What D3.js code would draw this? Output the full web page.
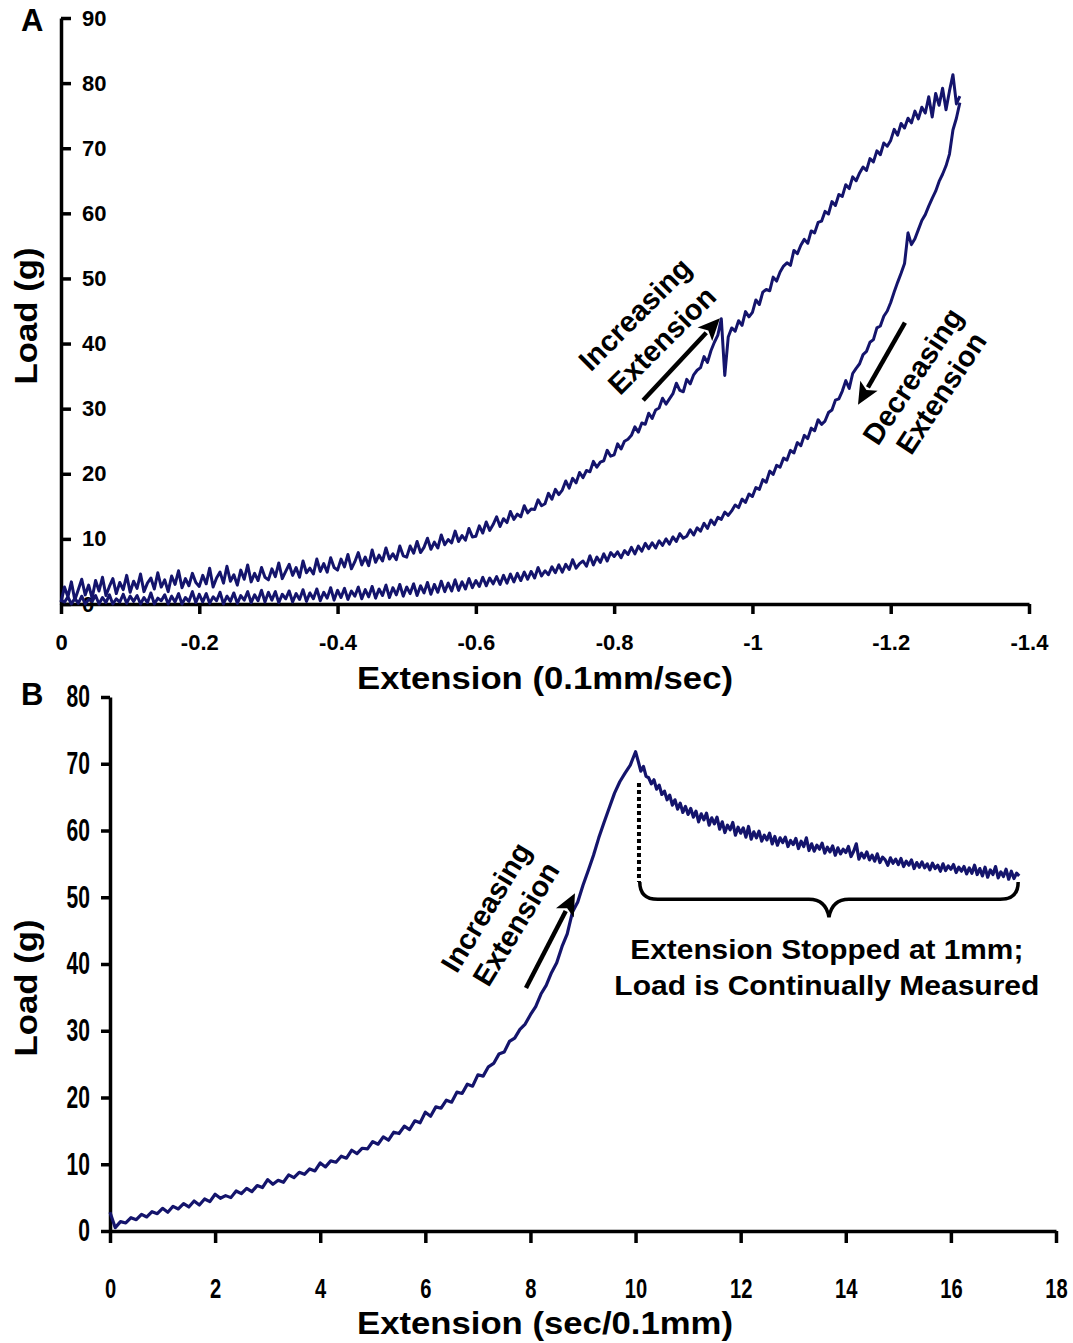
<!DOCTYPE html>
<html><head><meta charset="utf-8">
<script src="https://cdn.jsdelivr.net/npm/d3@7"></script>
<style>
body{margin:0;background:#fff}
text{font-family:"Liberation Sans",Arial,Helvetica,sans-serif;font-weight:bold;fill:#000}
</style>
</head><body>
<svg id="c" width="1073" height="1343"></svg>
<script>
// ---------- Panel A data (Load vs Extension, 0.1mm/sec) ----------
const aLoadStart = 0, aLoadStep = -0.005;
const aLoading = [
0.3,2.6,1.1,3.4,0.6,2.2,3.8,1.4,2.9,0.9,3.6,2.0,4.1,1.3,2.7,3.9,1.6,3.3,2.2,4.4,
1.8,3.5,2.4,4.6,1.9,3.2,4.0,2.3,4.8,2.6,3.7,1.9,4.3,3.0,5.1,2.5,3.9,2.8,4.7,3.3,
2.7,4.4,3.1,5.5,2.6,4.0,4.9,3.2,5.8,3.5,4.5,2.9,5.2,3.8,6.0,3.4,4.7,3.6,5.6,4.1,
3.7,5.4,4.2,6.3,3.9,5.0,6.1,4.4,5.6,4.1,6.6,4.8,5.5,4.6,6.9,5.0,6.2,4.9,7.1,5.6,
5.2,6.9,5.7,7.6,5.4,6.5,7.9,6.0,7.2,5.9,8.3,6.4,7.5,6.6,8.6,6.9,7.7,6.8,8.9,7.4,
7.2,8.9,7.8,9.6,7.9,8.7,10.1,8.4,9.5,8.6,10.6,9.1,9.9,9.4,11.2,9.6,10.5,9.8,11.6,10.3,
10.4,12.0,10.9,12.6,11.3,12.2,13.4,11.9,13.1,12.5,14.2,13.0,13.8,13.4,15.1,14.0,14.6,14.5,16.0,15.1,
15.4,17.0,16.1,17.6,16.8,17.5,18.9,17.8,19.3,18.6,20.2,19.4,20.5,20.3,21.9,21.0,21.8,22.0,23.6,22.7,
22.9,24.6,23.8,25.0,25.3,25.9,27.2,26.4,27.8,27.6,29.3,28.5,29.8,30.1,31.6,30.7,31.5,32.3,33.9,32.8,
32.6,34.5,33.8,35.2,35.9,36.3,38.0,37.1,38.9,40.2,41.3,43.8,35.1,41.0,42.4,41.9,43.5,42.8,44.9,44.1,
44.8,46.7,46.0,47.9,48.3,48.1,50.2,49.6,51.0,51.9,52.4,52.0,54.3,53.8,55.1,56.0,55.4,57.3,57.0,58.6,
58.8,60.3,59.9,61.8,61.2,62.9,62.6,64.4,63.8,65.6,65.0,66.2,67.1,66.6,68.4,67.9,69.6,69.0,70.8,70.3,
71.2,72.9,72.0,73.8,73.1,74.6,73.9,75.7,74.5,76.3,75.4,77.9,74.8,78.4,76.6,79.2,75.9,78.8,81.3,76.8,
78.0];
const aUnloadStart = -1.30, aUnloadStep = 0.005;
const aUnloading = [
77.0,74.6,72.8,69.1,67.3,66.0,64.9,63.4,62.3,61.1,59.8,58.9,57.5,56.1,55.2,57.0,52.3,50.8,49.4,47.9,
46.3,45.0,44.2,42.7,42.4,40.6,40.2,38.8,38.3,36.9,36.2,35.4,33.1,34.3,32.7,31.5,31.3,29.8,29.4,28.1,
27.6,28.3,26.6,27.0,25.4,25.9,24.3,24.8,23.2,23.6,22.1,22.4,21.0,21.3,19.9,20.4,18.7,19.1,17.6,17.9,
16.5,16.9,15.6,16.1,14.8,15.2,14.3,13.6,14.1,13.0,13.3,12.2,12.9,11.6,12.4,11.2,11.7,10.6,11.4,10.4,
10.1,10.8,9.6,10.3,9.2,10.0,9.0,9.7,8.6,9.4,8.5,9.3,8.1,8.9,7.7,8.7,7.6,8.2,7.1,8.0,
7.3,7.9,6.6,7.7,6.4,7.2,6.0,7.4,5.8,6.6,6.2,5.5,6.8,5.3,6.1,4.9,6.0,4.8,5.7,4.5,
5.1,4.3,5.6,4.0,5.0,3.8,4.9,3.6,4.7,3.4,4.6,3.2,4.4,3.0,4.2,3.1,4.0,2.8,4.1,2.7,
3.6,2.5,3.9,2.3,3.4,2.1,3.7,2.0,3.2,1.9,3.5,1.8,3.0,1.5,3.3,1.7,2.8,1.3,3.1,1.6,
2.6,1.2,3.0,1.4,2.5,1.0,2.9,1.3,2.3,0.9,2.7,1.1,2.2,0.8,2.6,1.2,2.0,0.7,2.4,1.0,
2.1,0.6,2.5,0.9,1.8,0.5,2.3,0.8,1.7,0.4,2.2,0.7,1.6,0.3,2.0,0.8,1.5,0.2,1.9,0.6,
1.8,0.3,2.1,0.5,1.4,0.2,1.9,0.6,1.3,0.1,1.7,0.4,1.2,0.0,1.8,0.5,1.1,0.1,1.6,0.3,
1.5,0.2,1.9,0.4,1.0,0.0,1.6,0.3,1.2,0.0,1.4,0.5,0.9,0.0,1.7,0.2,1.0,0.0,1.3,0.4,
1.2,0.1,1.5,0.3,0.8,0.0,1.4,0.2,1.0,0.0,1.3,0.4,0.7,0.0,1.2,0.1,0.9,0.0,1.1,0.3,0.6];
const aXTicks = [0,-0.2,-0.4,-0.6,-0.8,-1,-1.2,-1.4];
const aYTicks = [0,10,20,30,40,50,60,70,80,90];

// ---------- Panel B data (Load vs time, sec/0.1mm) ----------
const bLoadStart = 0, bLoadStep = 0.1;
const bLoading = [2.8,0.5,1.4,1.2,2.0,1.7,2.5,2.1,2.9,2.6,
3.4,2.8,3.7,3.3,4.1,3.6,4.5,3.9,4.8,4.4,
5.5,4.9,5.3,5.0,6.0,5.6,6.4,5.9,6.8,6.5,
7.7,7.0,7.6,7.3,8.4,8.0,8.8,8.5,9.3,9.0,
10.2,9.6,10.5,10.3,11.2,10.9,12.1,11.6,12.4,12.3,
13.4,13.0,14.1,13.6,14.8,14.6,15.7,15.2,16.5,16.2,
17.8,17.2,18.6,18.4,19.6,19.3,20.8,20.6,22.0,21.7,
23.4,23.2,24.6,25.1,26.5,26.8,28.4,28.9,30.2,31.0,
32.4,33.6,35.5,36.8,38.7,40.2,42.6,44.5,47.8,49.3,
51.8,54.0,56.3,58.9,61.2,63.4,65.6,67.3,68.6,69.8,71.8];
const bRelaxStart = 10.05, bRelaxStep = 0.05;
const bRelax = [
70.4,68.9,69.6,68.1,67.9,67.0,67.6,66.2,66.8,65.4,
65.9,64.6,65.3,63.8,64.6,63.2,64.1,62.7,63.6,62.4,
63.3,62.0,62.9,61.3,62.5,61.6,62.6,60.8,61.9,61.0,
62.0,60.2,61.3,59.7,60.8,60.1,61.2,59.3,60.5,59.6,
60.4,59.0,60.6,58.7,59.8,58.9,59.9,58.4,59.3,58.6,
59.6,58.0,59.1,57.8,58.9,58.2,59.0,57.6,58.5,57.9,
58.8,57.3,58.4,57.6,58.9,57.0,58.0,56.9,57.8,57.2,
58.1,56.6,57.5,56.8,57.7,56.3,57.4,56.5,57.2,56.7,
57.6,56.1,56.9,58.0,55.7,56.6,55.9,56.8,55.6,56.3,
55.4,56.5,55.2,56.0,55.6,54.8,55.9,55.1,55.7,54.9,
55.8,54.6,55.4,54.8,55.6,54.3,55.2,54.5,55.3,54.4,
55.0,54.1,55.1,54.3,54.8,53.9,55.0,54.0,54.7,54.2,
54.9,53.7,54.5,53.9,54.6,53.5,54.4,53.6,54.8,53.4,
54.3,53.2,54.5,53.0,54.1,53.4,54.6,52.9,53.8,53.1,
54.2,52.7,53.9,52.8,53.6,53.2];
const bXTicks = [0,2,4,6,8,10,12,14,16,18];
const bYTicks = [0,10,20,30,40,50,60,70,80];

const lineColor = "#14146c";
const svg = d3.select("#c");

function toPts(start, step, vals){ return vals.map((v,i)=>[start + i*step, v]); }

function arrow(g, x1,y1,x2,y2){
  const dx=x2-x1, dy=y2-y1, L=Math.hypot(dx,dy), ux=dx/L, uy=dy/L;
  const hl=22, hw=10;
  const bx=x2-ux*hl, by=y2-uy*hl;
  g.append("line").attr("x1",x1).attr("y1",y1).attr("x2",bx+ux*2).attr("y2",by+uy*2)
   .attr("stroke","#000").attr("stroke-width",4.5);
  g.append("path").attr("d",`M${x2},${y2}L${bx-uy*hw},${by+ux*hw}L${bx+ux*5},${by+uy*5}L${bx+uy*hw},${by-ux*hw}Z`)
   .attr("fill","#000");
}
function rotText(g, txt, x, y, ang, size){
  g.append("text").attr("transform",`translate(${x},${y}) rotate(${ang})`)
   .attr("text-anchor","middle").attr("dominant-baseline","central")
   .attr("font-size",size).text(txt);
}

// ================= Panel A =================
const xA = d3.scaleLinear().domain([0,-1.4]).range([61,1029]);
const yA = d3.scaleLinear().domain([0,90]).range([604,18]);
const gA = svg.append("g");

const axA = gA.append("g").attr("transform","translate(0,604)")
  .call(d3.axisBottom(xA).tickValues(aXTicks).tickSize(10).tickSizeOuter(0).tickPadding(20).tickFormat(d=>String(d)));
const ayA = gA.append("g").attr("transform","translate(61,0)")
  .call(d3.axisRight(yA).tickValues(aYTicks).tickSize(10).tickSizeOuter(0).tickPadding(11).tickFormat(d=>String(d)));
[axA, ayA].forEach(a=>{
  a.select(".domain").attr("stroke","#000").attr("stroke-width",3.5);
  a.selectAll(".tick line").attr("stroke","#000").attr("stroke-width",3.5);
  a.selectAll(".tick text").attr("font-size",22).attr("font-family",null).attr("fill","#000");
});

const lineA = d3.line().x(d=>xA(d[0])).y(d=>yA(d[1]));
gA.append("path").attr("d",lineA(toPts(aLoadStart,aLoadStep,aLoading)))
  .attr("fill","none").attr("stroke",lineColor).attr("stroke-width",3).attr("stroke-linejoin","round");
gA.append("path").attr("d",lineA(toPts(aUnloadStart,aUnloadStep,aUnloading)))
  .attr("fill","none").attr("stroke",lineColor).attr("stroke-width",3).attr("stroke-linejoin","round");

arrow(gA, xA(-0.842), yA(31.3), xA(-0.953), yA(43.9));
arrow(gA, xA(-1.2206), yA(43.2), xA(-1.1527), yA(30.6));
rotText(gA,"Increasing", xA(-0.830), yA(44.5), -45, 29);
rotText(gA,"Extension", xA(-0.869), yA(40.5), -45, 29);
rotText(gA,"Decreasing", xA(-1.232), yA(35.0), -56.5, 29);
rotText(gA,"Extension", xA(-1.273), yA(32.4), -56.5, 29);

gA.append("text").attr("x",545).attr("y",689).attr("text-anchor","middle").attr("font-size",32)
  .attr("textLength",376).attr("lengthAdjust","spacingAndGlyphs").text("Extension (0.1mm/sec)");
gA.append("text").attr("transform","translate(37,316) rotate(-90)").attr("text-anchor","middle").attr("font-size",32)
  .attr("textLength",137).attr("lengthAdjust","spacingAndGlyphs").text("Load (g)");
gA.append("text").attr("x",21).attr("y",31).attr("font-size",31).text("A");

// ================= Panel B =================
const xB = d3.scaleLinear().domain([0,18]).range([110,1056]);
const yB = d3.scaleLinear().domain([0,80]).range([1231,697]);
const gB = svg.append("g");

const axB = gB.append("g").attr("transform","translate(0,1231)")
  .call(d3.axisBottom(xB).tickValues(bXTicks).tickSize(12).tickSizeOuter(0).tickPadding(35).tickFormat(d=>String(d)));
const ayB = gB.append("g").attr("transform","translate(110,0)")
  .call(d3.axisLeft(yB).tickValues(bYTicks).tickSize(9).tickSizeOuter(0).tickPadding(11).tickFormat(d=>String(d)));
[axB, ayB].forEach(a=>{
  a.select(".domain").attr("stroke","#000").attr("stroke-width",3.5);
  a.selectAll(".tick line").attr("stroke","#000").attr("stroke-width",3.5);
  a.selectAll(".tick text").attr("font-family",null).attr("fill","#000");
});
axB.selectAll(".tick text").each(function(){
  const t=d3.select(this), y=+t.attr("y");
  t.attr("font-size",28).attr("y",null).attr("transform",`translate(0,${y}) scale(0.72,1)`);
});
ayB.selectAll(".tick text").each(function(){
  const t=d3.select(this), x=+t.attr("x");
  t.attr("font-size",31).attr("x",null).attr("transform",`translate(${x},0) scale(0.68,1)`);
});

const lineB = d3.line().x(d=>xB(d[0])).y(d=>yB(d[1]));
const bAll = toPts(bLoadStart,bLoadStep,bLoading).concat(toPts(bRelaxStart,bRelaxStep,bRelax));
gB.append("path").attr("d",lineB(bAll))
  .attr("fill","none").attr("stroke",lineColor).attr("stroke-width",3.2).attr("stroke-linejoin","round");

// dotted drop line at the stop point
gB.append("line").attr("x1",xB(10.065)).attr("x2",xB(10.065)).attr("y1",yB(67.1)).attr("y2",yB(52.3))
  .attr("stroke","#000").attr("stroke-width",4).attr("stroke-dasharray","4,3");
// curly brace
{
  const x0=xB(10.08), x1=xB(17.28), xm=(x0+x1)/2, y0=yB(49.7), yEnd=yB(52.3), yTip=yB(47.0);
  gB.append("path").attr("d",
    `M${x0},${yEnd} Q${x0},${y0} ${x0+18},${y0} L${xm-20},${y0} Q${xm-3},${y0} ${xm},${yTip} Q${xm+3},${y0} ${xm+20},${y0} L${x1-18},${y0} Q${x1},${y0} ${x1},${yEnd}`)
   .attr("fill","none").attr("stroke","#000").attr("stroke-width",3.5);
}
arrow(gB, xB(7.915), yB(36.4), xB(8.847), yB(50.6));
rotText(gB,"Increasing", xB(7.154), yB(48.5), -58.7, 29);
rotText(gB,"Extension", xB(7.725), yB(46.0), -58.7, 29);

gB.append("text").attr("x",xB(13.64)).attr("y",yB(40.75)).attr("text-anchor","middle").attr("font-size",28)
  .attr("textLength",393).attr("lengthAdjust","spacingAndGlyphs").text("Extension Stopped at 1mm;");
gB.append("text").attr("x",xB(13.64)).attr("y",yB(35.36)).attr("text-anchor","middle").attr("font-size",28)
  .attr("textLength",425).attr("lengthAdjust","spacingAndGlyphs").text("Load is Continually Measured");

gB.append("text").attr("x",545).attr("y",1334).attr("text-anchor","middle").attr("font-size",32)
  .attr("textLength",376).attr("lengthAdjust","spacingAndGlyphs").text("Extension (sec/0.1mm)");
gB.append("text").attr("transform","translate(37,988) rotate(-90)").attr("text-anchor","middle").attr("font-size",32)
  .attr("textLength",137).attr("lengthAdjust","spacingAndGlyphs").text("Load (g)");
gB.append("text").attr("x",21).attr("y",705).attr("font-size",31).text("B");
</script>
</body></html>
